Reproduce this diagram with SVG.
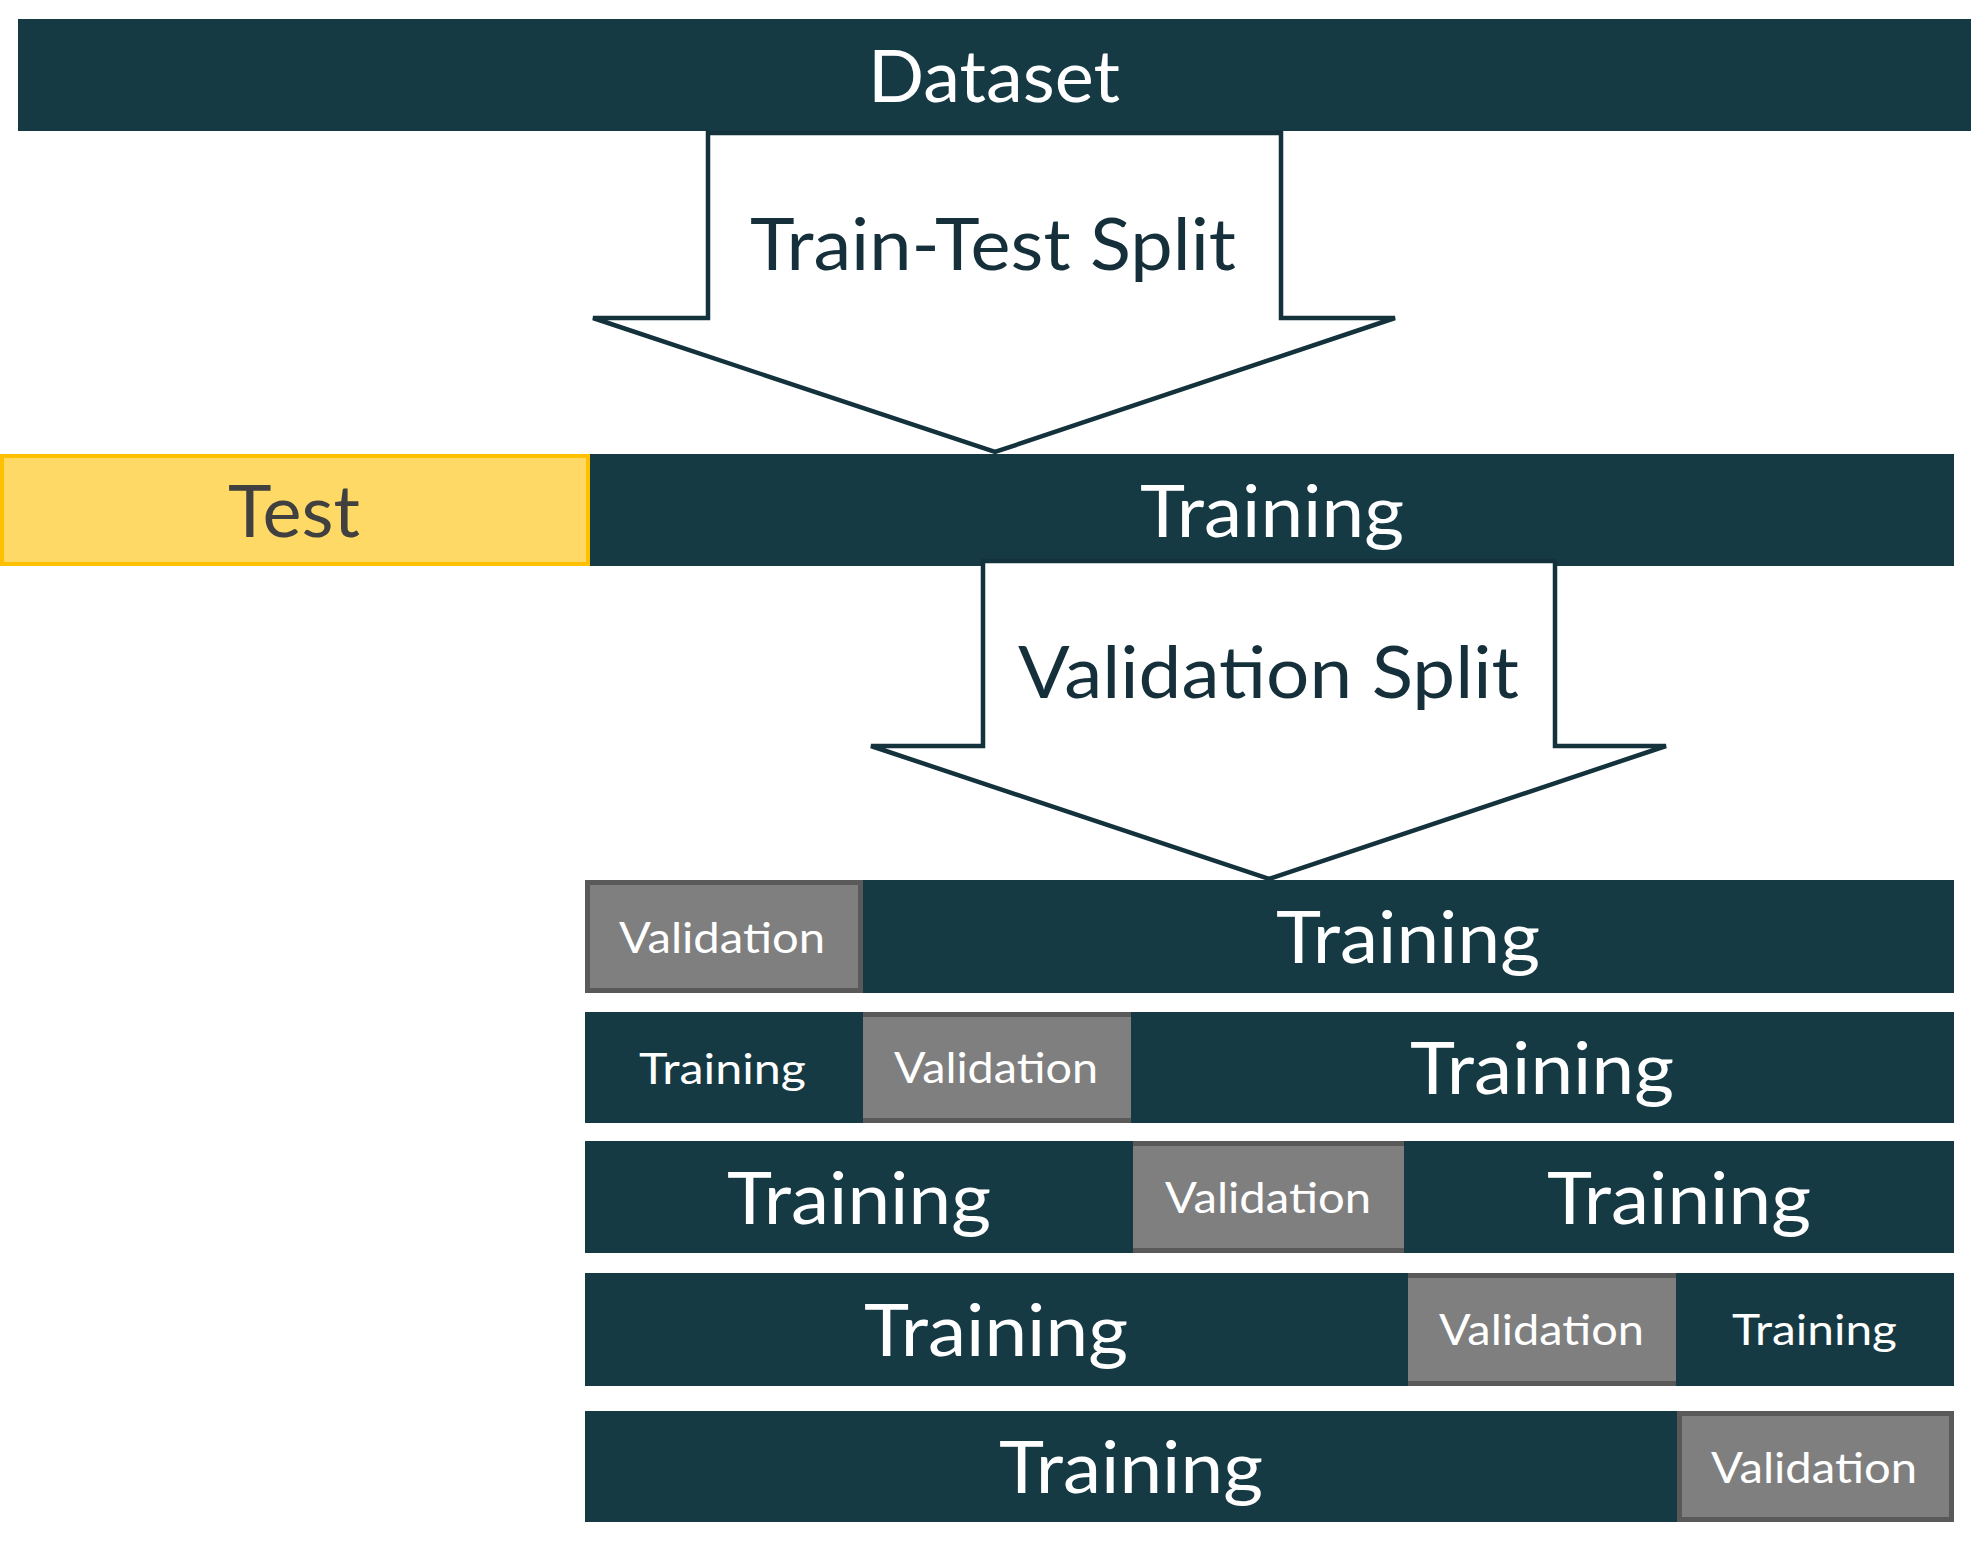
<svg xmlns="http://www.w3.org/2000/svg" width="1971" height="1566" viewBox="0 0 1971 1566">
<style>
.dark{fill:#153A44}
.val{fill:#7F7F7F;stroke:#595959;stroke-width:5}
.valfill{fill:#7F7F7F}
.valline{fill:#595959}
.arrow{fill:#FFFFFF;stroke:#14323C;stroke-width:4.5;stroke-linejoin:miter}
text{font-family:Lato,"Liberation Sans",sans-serif;text-anchor:middle}
.big{font-size:72px;fill:#FFFFFF}
.small{font-size:42px;fill:#FFFFFF}
.alab{font-size:71px;fill:#15303A}
</style>
<rect width="1971" height="1566" fill="#FFFFFF"/>
<g id="dataset">
<rect class="dark" x="18" y="19" width="1953" height="112"/>
<text class="big" x="994" y="102" textLength="252" lengthAdjust="spacingAndGlyphs">Dataset</text>
</g>
<g id="test">
<rect x="2" y="456" width="586" height="108" fill="#FFD966" stroke="#FFC000" stroke-width="4"/>
<text class="big" x="294" y="537" style="fill:#404040" textLength="132" lengthAdjust="spacingAndGlyphs">Test</text>
</g>
<g id="training">
<rect class="dark" x="590" y="454" width="1364" height="112"/>
<text class="big" x="1272" y="537" textLength="264" lengthAdjust="spacingAndGlyphs">Training</text>
</g>
<g id="connectors">
<g id="train-test-split">
<polygon class="arrow" points="708,133 1281,133 1281,318 1395,318 995,452 593,318 708,318"/>
<text class="alab" x="993" y="270" textLength="486" lengthAdjust="spacingAndGlyphs">Train-Test Split</text>
</g>
<g id="validation-split">
<polygon class="arrow" points="983,561 1555,561 1555,746 1666,746 1269,879 871,746 983,746"/>
<text class="alab" x="1268.5" y="698" textLength="501" lengthAdjust="spacingAndGlyphs">Validation Split</text>
</g>
</g>
<g id="fold1">
<rect class="val" x="587.5" y="882.5" width="273" height="108"/>
<rect class="dark" x="863" y="880" width="1091" height="113"/>
<text class="small" x="722" y="953" textLength="206" lengthAdjust="spacingAndGlyphs">Validation</text>
<text class="big" x="1408" y="963" textLength="264" lengthAdjust="spacingAndGlyphs">Training</text>
</g>
<g id="fold2">
<rect class="dark" x="585" y="1012" width="278" height="111"/>
<rect class="valfill" x="863" y="1012" width="268" height="111"/>
<rect class="valline" x="863" y="1012" width="268" height="5"/>
<rect class="valline" x="863" y="1118" width="268" height="5"/>
<rect class="dark" x="1131" y="1012" width="823" height="111"/>
<text class="small" x="722.5" y="1084" textLength="167" lengthAdjust="spacingAndGlyphs">Training</text>
<text class="small" x="996" y="1083" textLength="204" lengthAdjust="spacingAndGlyphs">Validation</text>
<text class="big" x="1542" y="1094" textLength="264" lengthAdjust="spacingAndGlyphs">Training</text>
</g>
<g id="fold3">
<rect class="dark" x="585" y="1141" width="548" height="112"/>
<rect class="valfill" x="1133" y="1141" width="271" height="112"/>
<rect class="valline" x="1133" y="1141" width="271" height="5"/>
<rect class="valline" x="1133" y="1248" width="271" height="5"/>
<rect class="dark" x="1404" y="1141" width="550" height="112"/>
<text class="big" x="859" y="1224" textLength="264" lengthAdjust="spacingAndGlyphs">Training</text>
<text class="small" x="1268" y="1213" textLength="206" lengthAdjust="spacingAndGlyphs">Validation</text>
<text class="big" x="1679" y="1224" textLength="264" lengthAdjust="spacingAndGlyphs">Training</text>
</g>
<g id="fold4">
<rect class="dark" x="585" y="1273" width="823" height="113"/>
<rect class="valfill" x="1408" y="1273" width="268" height="113"/>
<rect class="valline" x="1408" y="1273" width="268" height="5"/>
<rect class="valline" x="1408" y="1381" width="268" height="5"/>
<rect class="dark" x="1676" y="1273" width="278" height="113"/>
<text class="big" x="996" y="1356" textLength="264" lengthAdjust="spacingAndGlyphs">Training</text>
<text class="small" x="1541.5" y="1345" textLength="205" lengthAdjust="spacingAndGlyphs">Validation</text>
<text class="small" x="1814.5" y="1345" textLength="165" lengthAdjust="spacingAndGlyphs">Training</text>
</g>
<g id="fold5">
<rect class="dark" x="585" y="1411" width="1094" height="111"/>
<rect class="val" x="1679.5" y="1413.5" width="272" height="106"/>
<text class="big" x="1131" y="1493" textLength="264" lengthAdjust="spacingAndGlyphs">Training</text>
<text class="small" x="1814" y="1483" textLength="206" lengthAdjust="spacingAndGlyphs">Validation</text>
</g>
</svg>
